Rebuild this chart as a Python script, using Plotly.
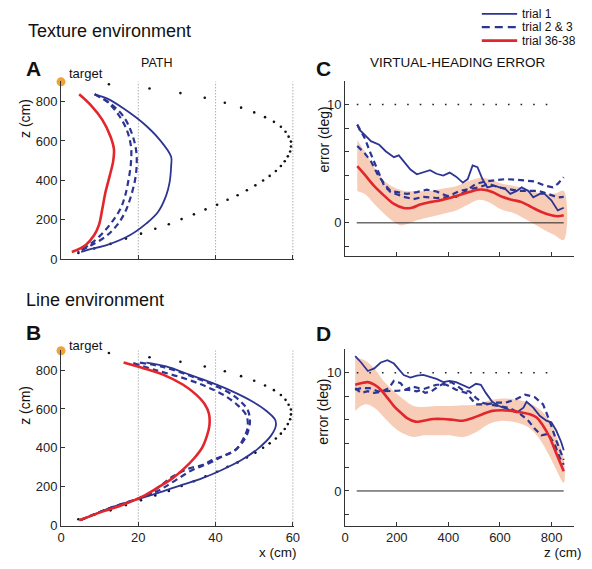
import plotly.graph_objects as go

# ---------------- DATA ----------------
# Panel A (texture environment) paths: x (cm) vs z (cm)
a_red_x = [4.7, 7.7, 10.7, 12.8, 13.7, 13.5, 12.6, 11.5, 10.7, 9.8, 8.6, 6.4, 2.8]
a_red_z = [837, 782, 707, 623, 557, 498, 423, 340, 257, 173, 123, 73, 37]
a_t1_x = [8.7, 12.0, 16.2, 21.3, 25.5, 28.5, 28.5, 28.1, 27.2, 25.1, 22.1, 17.9, 12.0, 6.9, 5.2]
a_t1_z = [837, 815, 765, 690, 607, 520, 473, 390, 323, 240, 182, 123, 73, 48, 37]
a_t2_x = [8.7, 12.8, 16.2, 18.3, 19.4, 19.6, 19.2, 17.9, 16.6, 14.5, 11.5, 7.7, 4.7]
a_t2_z = [837, 790, 723, 640, 557, 490, 407, 307, 240, 173, 115, 70, 40]
a_t3_x = [8.7, 12.0, 14.9, 17.0, 18.1, 18.1, 17.5, 16.6, 15.4, 13.2, 10.3, 7.3, 4.3]
a_t3_z = [837, 798, 732, 657, 573, 490, 407, 323, 257, 190, 123, 73, 37]

# Panel B (line environment) paths
b_red_x = [16.2, 21.3, 26.4, 31.5, 34.9, 37.2, 38.3, 38.4, 37.8, 36.6, 34.4, 31.9, 28.9, 25.5, 21.3, 16.2, 11.1, 4.7]
b_red_z = [839, 810, 777, 726, 675, 624, 574, 514, 464, 404, 345, 294, 244, 201, 151, 108, 74, 27]
b_t1_x = [22.1, 27.2, 33.2, 39.1, 44.2, 49.3, 53.1, 55.4, 55.6, 54.4, 51.0, 46.7, 41.6, 36.6, 31.5, 26.4, 19.6, 12.8, 5.2]
b_t1_z = [839, 819, 777, 734, 692, 641, 591, 545, 514, 464, 396, 337, 286, 244, 210, 176, 134, 91, 27]
b_t2_x = [20.4, 26.4, 33.2, 39.1, 44.2, 47.2, 48.4, 48.9, 48.6, 47.6, 45.0, 41.6, 38.3, 34.0, 29.8, 26.4, 24.0, 20.0, 13.0, 5.0]
b_t2_z = [839, 816, 772, 726, 675, 624, 591, 540, 497, 447, 387, 354, 320, 286, 235, 193, 168, 138, 92, 28]
b_t3_x = [18.7, 24.7, 31.5, 37.4, 42.5, 45.9, 48.0, 48.3, 47.6, 45.5, 42.5, 39.1, 36.6, 33.2, 28.9, 25.5, 23.4, 19.8, 13.0, 5.0]
b_t3_z = [836, 799, 760, 717, 667, 616, 565, 506, 464, 396, 362, 337, 311, 294, 252, 201, 168, 138, 92, 28]

# Dotted reference path (same in A and B)
ref_x = [4.5, 8.6, 12.8, 16.8, 20.7, 24.4, 27.9, 31.2, 34.4, 37.4, 40.4, 43.1, 45.7, 48.1, 50.3, 52.3, 54.0, 55.6,
         56.9, 57.9, 58.7, 59.3, 59.5, 59.5, 58.9, 58.1, 56.9, 55.1, 52.8, 50.0, 46.6, 42.4, 37.2, 30.9, 22.9, 12.4]
ref_z = [32, 55, 78, 105, 130, 155, 178, 204, 228, 253, 277, 302, 325, 350, 375, 400, 423, 448,
         473, 497, 522, 547, 572, 597, 622, 647, 672, 697, 721, 745, 769, 794, 819, 843, 866, 888]

target_x = [0]
target_z = [900]
grid_x = [20, 40, 60]

# Panel C (texture) virtual-heading error
c_t1_z = [47, 56, 75, 100, 132, 157, 189, 208, 227, 253, 278, 303, 329, 354, 380, 405, 430, 456, 475, 494, 513, 532,
          551, 577, 602, 621, 640, 665, 684, 710, 729, 754, 773, 799, 824, 847]
c_t1_e = [8.3, 7.85, 7.45, 6.9, 6.6, 6.05, 5.55, 5.7, 5.2, 4.5, 4.1, 4.3, 4.45, 4.15, 4.0, 4.25, 3.9, 3.4, 3.7, 4.85,
          4.7, 3.7, 3.0, 3.15, 3.0, 2.85, 2.45, 2.7, 3.0, 2.7, 2.15, 2.45, 2.45, 1.9, 1.05, 1.28]
c_t2_z = [47, 75, 100, 126, 151, 176, 202, 240, 278, 316, 354, 392, 430, 469, 507, 545, 583, 621, 659, 697, 735, 773,
          805, 824, 847]
c_t2_e = [6.5, 5.9, 5.2, 4.1, 3.3, 2.7, 2.6, 2.45, 2.6, 2.8, 2.65, 2.3, 2.2, 2.7, 3.3, 3.5, 3.6, 3.7, 3.65, 3.55, 3.5,
          3.15, 3.0, 3.3, 3.85]
c_t3_z = [47, 75, 100, 126, 151, 176, 227, 265, 303, 354, 392, 443, 481, 519, 557, 595, 634, 672, 710, 748, 786, 824, 847]
c_t3_e = [8.3, 7.2, 5.8, 4.4, 3.15, 2.6, 2.2, 2.0, 2.2, 2.1, 2.15, 2.7, 2.85, 3.0, 3.3, 3.0, 2.85, 2.7, 2.7, 2.7, 2.45,
          2.15, 2.2]
c_red_z = [47, 75, 113, 151, 189, 227, 259, 291, 329, 367, 405, 443, 481, 513, 538, 570, 608, 646, 684, 722, 761, 799,
           824, 847]
c_red_e = [4.8, 4.1, 3.1, 2.3, 1.6, 1.25, 1.28, 1.55, 1.75, 1.9, 2.1, 2.35, 2.6, 2.8, 2.8, 2.6, 2.2, 1.95, 1.75, 1.33,
           0.92, 0.64, 0.56, 0.64]
c_up_z = [47, 75, 113, 151, 189, 227, 278, 329, 380, 430, 481, 519, 557, 608, 659, 710, 761, 811, 847]
c_up_e = [7.0, 6.05, 4.7, 3.55, 3.0, 2.7, 2.67, 2.7, 2.9, 3.1, 3.55, 3.8, 3.7, 3.3, 3.1, 2.85, 2.45, 2.45, 2.7]
c_lo_z = [47, 75, 113, 151, 189, 214, 240, 278, 329, 380, 430, 481, 519, 557, 608, 659, 710, 761, 811, 847]
c_lo_e = [2.7, 2.45, 1.6, 0.78, 0.08, -0.2, -0.1, 0.22, 0.5, 0.78, 1.05, 1.6, 1.95, 1.75, 1.1, 0.78, 0.17, -0.47,
          -1.03, -1.45]

# Panel D (line) virtual-heading error
d_t1_z = [39, 62, 88, 113, 138, 164, 189, 208, 227, 253, 278, 303, 329, 354, 380, 405, 430, 456, 481, 507, 526, 545,
          570, 596, 634, 665, 691, 703, 729, 754, 780, 799, 818, 837, 847]
d_t1_e = [11.4, 10.86, 10.14, 10.36, 10.86, 11.05, 10.77, 10.3, 9.8, 9.59, 9.75, 9.81, 9.67, 9.48, 9.2, 9.31, 9.2,
          8.92, 8.7, 9.06, 8.98, 8.29, 7.54, 7.18, 6.91, 6.63, 7.04, 7.54, 7.04, 6.35, 5.94, 5.8, 5.11, 4.14, 3.45]
d_t2_z = [39, 62, 88, 113, 138, 170, 189, 215, 234, 259, 284, 310, 335, 361, 386, 411, 437, 462, 481, 507, 532, 557,
          596, 634, 672, 710, 735, 761, 786, 811, 830, 847]
d_t2_e = [8.7, 8.29, 8.43, 8.29, 8.37, 8.7, 9.31, 9.12, 8.56, 8.84, 8.7, 8.29, 8.43, 8.84, 9.12, 9.2, 8.84, 8.43, 8.43,
          7.87, 7.46, 7.32, 7.18, 7.04, 6.63, 5.94, 5.25, 4.7, 4.83, 4.0, 2.9, 2.21]
d_t3_z = [39, 62, 94, 126, 151, 183, 208, 240, 278, 316, 354, 392, 430, 469, 507, 545, 583, 621, 659, 697, 735, 767,
          792, 818, 837, 847]
d_t3_e = [8.56, 8.7, 8.7, 8.43, 8.43, 8.43, 8.48, 8.56, 8.43, 8.7, 8.98, 8.98, 8.56, 8.29, 7.32, 7.32, 7.46, 7.46, 7.73,
          8.15, 7.93, 7.32, 5.94, 4.28, 3.18, 2.62]
d_red_z = [39, 62, 88, 113, 138, 164, 189, 215, 240, 272, 303, 342, 380, 418, 456, 494, 532, 570, 608, 646, 684, 716,
           742, 767, 792, 818, 847]
d_red_e = [8.98, 9.1, 9.2, 8.98, 8.56, 7.87, 7.18, 6.63, 6.16, 5.86, 5.94, 6.08, 6.08, 6.02, 5.94, 6.16, 6.49, 6.77,
           6.82, 6.77, 6.63, 6.49, 6.22, 5.52, 4.56, 3.18, 1.66]
d_up_z = [39, 75, 113, 151, 189, 227, 265, 303, 354, 405, 456, 507, 557, 608, 659, 710, 761, 799, 824, 847]
d_up_e = [11.3, 11.05, 10.36, 9.25, 8.43, 7.73, 7.18, 7.1, 7.18, 7.18, 7.24, 7.32, 7.65, 7.82, 7.73, 7.46, 6.77, 5.66,
          4.28, 2.76]
d_lo_z = [39, 75, 113, 151, 189, 227, 265, 303, 354, 405, 456, 507, 557, 608, 659, 710, 748, 786, 818, 847]
d_lo_e = [6.77, 7.32, 7.04, 6.22, 5.39, 4.83, 4.56, 4.7, 4.7, 4.7, 4.56, 4.97, 5.66, 5.94, 5.8, 5.39, 4.56, 3.18, 1.8,
          0.69]

ref_err_z = [45, 825]
ref_err_e = [10, 10]
zero_z = [45, 847]
zero_e = [0, 0]

legend_labels = ["trial 1", "trial 2 & 3", "trial 36-38"]

# ---------------- STYLE ----------------
BLUE = "#2d3593"
RED = "#e3262b"
BAND = "#f7cdb7"
ORANGE = "#eea23a"
FONT = "Liberation Sans, Arial, Helvetica, sans-serif"
W, H = 592, 569

fig = go.Figure()


def px_x(p):
    return p / W


def px_y(p):
    return 1 - p / H


def add_paths(xa, ya, red, t1, t2, t3):
    fig.add_trace(go.Scatter(x=ref_x, y=ref_z, mode="markers", marker=dict(size=2.6, color="#111"),
                             xaxis=xa, yaxis=ya, hoverinfo="skip"))
    for tx, tz in (t2, t3):
        fig.add_trace(go.Scatter(x=tx, y=tz, mode="lines", line=dict(color=BLUE, width=2.2, dash="6px,4px"),
                                 line_shape="spline", xaxis=xa, yaxis=ya))
    fig.add_trace(go.Scatter(x=t1[0], y=t1[1], mode="lines", line=dict(color=BLUE, width=1.8),
                             line_shape="spline", xaxis=xa, yaxis=ya))
    fig.add_trace(go.Scatter(x=red[0], y=red[1], mode="lines", line=dict(color=RED, width=2.6),
                             line_shape="spline", xaxis=xa, yaxis=ya))
    fig.add_trace(go.Scatter(x=target_x, y=target_z, mode="markers", marker=dict(size=9, color=ORANGE),
                             cliponaxis=False, xaxis=xa, yaxis=ya))


add_paths("x", "y", (a_red_x, a_red_z), (a_t1_x, a_t1_z), (a_t2_x, a_t2_z), (a_t3_x, a_t3_z))
add_paths("x2", "y2", (b_red_x, b_red_z), (b_t1_x, b_t1_z), (b_t2_x, b_t2_z), (b_t3_x, b_t3_z))


def add_errors(xa, ya, upz, upe, loz, loe, red, t1, t2, t3):
    fig.add_trace(go.Scatter(x=upz + loz[::-1], y=upe + loe[::-1], fill="toself", fillcolor=BAND,
                             line=dict(width=0), mode="lines", line_shape="spline", xaxis=xa, yaxis=ya))
    fig.add_trace(go.Scatter(x=zero_z, y=zero_e, mode="lines", line=dict(color="#222", width=1), xaxis=xa, yaxis=ya))
    fig.add_trace(go.Scatter(x=ref_err_z, y=ref_err_e, mode="lines",
                             line=dict(color="#222", width=1.6, dash="1.6px,11px"), xaxis=xa, yaxis=ya))
    for tz, te in (t2, t3):
        fig.add_trace(go.Scatter(x=tz, y=te, mode="lines", line=dict(color=BLUE, width=2.2, dash="6px,4px"),
                                 xaxis=xa, yaxis=ya))
    fig.add_trace(go.Scatter(x=t1[0], y=t1[1], mode="lines", line=dict(color=BLUE, width=1.8), xaxis=xa, yaxis=ya))
    fig.add_trace(go.Scatter(x=red[0], y=red[1], mode="lines", line=dict(color=RED, width=2.6),
                             line_shape="spline", xaxis=xa, yaxis=ya))


add_errors("x3", "y3", c_up_z, c_up_e, c_lo_z, c_lo_e, (c_red_z, c_red_e), (c_t1_z, c_t1_e),
           (c_t2_z, c_t2_e), (c_t3_z, c_t3_e))
add_errors("x4", "y4", d_up_z, d_up_e, d_lo_z, d_lo_e, (d_red_z, d_red_e), (d_t1_z, d_t1_e),
           (d_t2_z, d_t2_e), (d_t3_z, d_t3_e))

# vertical dotted grid lines in A and B
for xr, yr in (("x", "y"), ("x2", "y2")):
    for gx in grid_x:
        fig.add_shape(type="line", xref=xr, yref=yr, x0=gx, x1=gx, y0=0, y1=900,
                      line=dict(color="#8a8a8a", width=1, dash="1px,2px"), layer="below")

axis_common = dict(showline=True, linecolor="#333", linewidth=1, ticks="inside", ticklen=4, tickcolor="#333",
                   showgrid=False, zeroline=False, tickfont=dict(family=FONT, size=13, color="#222"))

xd_left = [58 / W, 295 / W]
xd_right = [347 / W, 580 / W]
Z_TOP = 905

fig.update_layout(
    width=W, height=H, margin=dict(l=0, r=0, t=0, b=0), paper_bgcolor="white", plot_bgcolor="white",
    showlegend=False, font=dict(family=FONT, color="#222"),
    xaxis=dict(domain=xd_left, range=[0, 60.3], tickvals=[0, 20, 40, 60], showticklabels=False, anchor="y",
               **axis_common),
    yaxis=dict(domain=[(H - 263) / H, (H - (263 - 0.2 * Z_TOP)) / H], range=[0, Z_TOP],
               tickvals=[0, 200, 400, 600, 800], anchor="x", **axis_common),
    xaxis2=dict(domain=xd_left, range=[0, 60.3], tickvals=[0, 20, 40, 60], anchor="y2", **axis_common),
    yaxis2=dict(domain=[(H - 533) / H, (H - (533 - 0.197 * Z_TOP)) / H], range=[0, Z_TOP],
                tickvals=[0, 200, 400, 600, 800], anchor="x2", **axis_common),
    xaxis3=dict(domain=xd_right, range=[0, 887.6], tickvals=[200, 400, 600, 800], showticklabels=False,
                anchor="y3", **axis_common),
    yaxis3=dict(domain=[(H - 260) / H, (H - 82) / H], range=[-2.83, 12], tickvals=[-2, 0, 2, 4, 6, 8, 10, 12],
                ticktext=["", "0", "", "", "", "", "10", ""], anchor="x3", **axis_common),
    xaxis4=dict(domain=xd_right, range=[0, 887.6], tickvals=[0, 200, 400, 600, 800], anchor="y4",
                **axis_common),
    yaxis4=dict(domain=[(H - 533) / H, (H - 354) / H], range=[-2.92, 12], tickvals=[-2, 0, 2, 4, 6, 8, 10, 12],
                ticktext=["", "0", "", "", "", "", "10", ""], anchor="x4", **axis_common),
)


def ann(text, x, y, size, xanchor="left", yanchor="middle", bold=False, angle=0):
    fig.add_annotation(text=f"<b>{text}</b>" if bold else text, x=px_x(x), y=px_y(y), xref="paper",
                       yref="paper", showarrow=False, xanchor=xanchor, yanchor=yanchor, textangle=angle,
                       borderpad=0, font=dict(family=FONT, size=size, color="#111"))


ann("Texture environment", 23, 31, 18)
ann("Line environment", 21, 304, 18)
ann("A", 21, 69, 21, bold=True)
ann("B", 21, 337, 21, bold=True)
ann("C", 316, 69, 21, bold=True)
ann("D", 316, 338, 21, bold=True)
ann("PATH", 155, 64, 12.5, xanchor="center")
ann("VIRTUAL-HEADING ERROR", 462, 63, 13.5, xanchor="center")
ann("target", 65, 75, 13)
ann("target", 65, 350, 13)
ann("z (cm)", 22, 120, 14, xanchor="center", angle=-90)
ann("z (cm)", 22, 411, 14, xanchor="center", angle=-90)
ann("error (deg)", 325, 142, 14, xanchor="center", angle=-90)
ann("error (deg)", 325, 418, 14, xanchor="center", angle=-90)
ann("x (cm)", 299, 560, 13.5, xanchor="right")
ann("z (cm)", 589, 560, 13.5, xanchor="right")

# legend (custom, drawn in paper coordinates)
legend_styles = [dict(color=BLUE, width=1.8), dict(color=BLUE, width=2.2, dash="8px,5px"), dict(color=RED, width=2.6)]
for i, (lab, st) in enumerate(zip(legend_labels, legend_styles)):
    yy = 14 + 13.6 * i
    fig.add_shape(type="line", xref="paper", yref="paper", x0=px_x(486), x1=px_x(522), y0=px_y(yy), y1=px_y(yy),
                  line=st)
    ann(lab, 526, yy, 12)

fig.write_html("out.html")
